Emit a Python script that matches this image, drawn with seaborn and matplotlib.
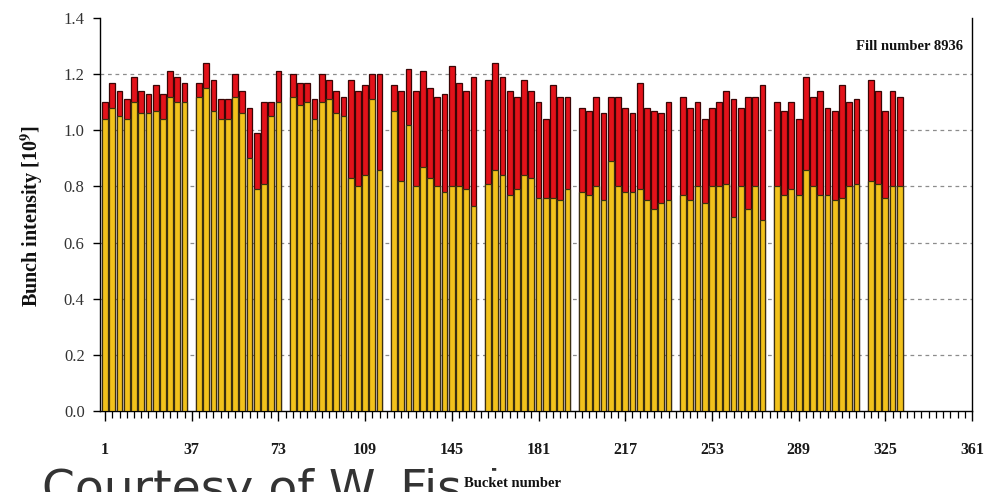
import numpy as np
import pandas as pd
import matplotlib
matplotlib.use("Agg")
import matplotlib.pyplot as plt
import seaborn as sns
from matplotlib.transforms import Bbox
from matplotlib.ticker import FixedLocator

# ---------------- data ----------------
# first bucket of each bunch train (bunches every 3 buckets, one empty slot between trains)
train_first_bucket = [1, 40, 79, 121, 160, 199, 241, 280, 319]
bucket_step = 3

# bunch intensity at injection (red) and later in the store (yellow), per train
initial = [
    [1.10, 1.17, 1.14, 1.11, 1.19, 1.14, 1.13, 1.16, 1.13, 1.21, 1.19, 1.17],
    [1.17, 1.24, 1.18, 1.11, 1.11, 1.20, 1.14, 1.08, 0.99, 1.10, 1.10, 1.21],
    [1.20, 1.17, 1.17, 1.11, 1.20, 1.18, 1.14, 1.12, 1.18, 1.14, 1.16, 1.20, 1.20],
    [1.16, 1.14, 1.22, 1.14, 1.21, 1.15, 1.12, 1.13, 1.23, 1.17, 1.14, 1.19],
    [1.18, 1.24, 1.19, 1.14, 1.12, 1.18, 1.14, 1.10, 1.04, 1.16, 1.12, 1.12],
    [1.08, 1.07, 1.12, 1.06, 1.12, 1.12, 1.08, 1.06, 1.17, 1.08, 1.07, 1.06, 1.10],
    [1.12, 1.08, 1.10, 1.04, 1.08, 1.10, 1.14, 1.11, 1.08, 1.12, 1.12, 1.16],
    [1.10, 1.07, 1.10, 1.04, 1.19, 1.12, 1.14, 1.08, 1.07, 1.16, 1.10, 1.11],
    [1.18, 1.14, 1.07, 1.14, 1.12],
]
final = [
    [1.04, 1.08, 1.05, 1.04, 1.10, 1.06, 1.06, 1.07, 1.04, 1.12, 1.10, 1.10],
    [1.12, 1.15, 1.07, 1.04, 1.04, 1.12, 1.06, 0.90, 0.79, 0.81, 1.05, 1.10],
    [1.12, 1.09, 1.10, 1.04, 1.10, 1.11, 1.06, 1.05, 0.83, 0.80, 0.84, 1.11, 0.86],
    [1.07, 0.82, 1.02, 0.80, 0.87, 0.83, 0.80, 0.78, 0.80, 0.80, 0.79, 0.73],
    [0.81, 0.86, 0.84, 0.77, 0.79, 0.84, 0.83, 0.76, 0.76, 0.76, 0.75, 0.79],
    [0.78, 0.77, 0.80, 0.75, 0.89, 0.80, 0.78, 0.78, 0.79, 0.75, 0.72, 0.74, 0.75],
    [0.77, 0.75, 0.80, 0.74, 0.80, 0.80, 0.81, 0.69, 0.80, 0.72, 0.80, 0.68],
    [0.80, 0.77, 0.79, 0.77, 0.86, 0.80, 0.77, 0.77, 0.75, 0.76, 0.80, 0.81],
    [0.82, 0.81, 0.76, 0.80, 0.80],
]

x_tick_values = [1, 37, 73, 109, 145, 181, 217, 253, 289, 325, 361]
y_tick_values = [0.0, 0.2, 0.4, 0.6, 0.8, 1.0, 1.2, 1.4]
fill_label = "Fill number 8936"
x_title = "Bucket number"
y_title = "Bunch intensity [10$^{\\mathbf{9}}$]"
footer_text = "Courtesy of W. Fischer"

# ---------------- table ----------------
rows = []
for first, ini, fin in zip(train_first_bucket, initial, final):
    for k, (a, b) in enumerate(zip(ini, fin)):
        rows.append({"bucket": first + bucket_step * k, "initial": a, "final": b})
df = pd.DataFrame(rows)

# ---------------- style ----------------
sns.set_theme(style="white")
plt.rcParams["font.family"] = ["Liberation Serif", "DejaVu Serif"]
plt.rcParams["mathtext.fontset"] = "stix"

W, H = 992, 492
fig = plt.figure(figsize=(W / 100, H / 100), dpi=100)
ax_left, ax_right, ax_top, ax_bot = 100, 972, 18, 411
ax = fig.add_axes([ax_left / W, 1 - ax_bot / H, (ax_right - ax_left) / W, (ax_bot - ax_top) / H])

# gridlines behind bars
for v in y_tick_values[1:-1]:
    ax.axhline(v, color="#8c8c8c", lw=0.9, ls=(0, (3, 3)), zorder=0)

sns.barplot(data=df, x="bucket", y="initial", native_scale=True, width=0.8,
            color="#e3121a", saturation=1, edgecolor="#3a0505", linewidth=0.9,
            errorbar=None, ax=ax, zorder=2)
sns.barplot(data=df, x="bucket", y="final", native_scale=True, width=0.8,
            color="#f2c21c", saturation=1, edgecolor="#3b3010", linewidth=0.9,
            errorbar=None, ax=ax, zorder=3)

ax.set_xlim(-1.1, 361)
ax.set_ylim(0, 1.4)

ax.xaxis.set_major_locator(FixedLocator(x_tick_values))
ax.xaxis.set_minor_locator(FixedLocator(np.arange(1, 362, 3)))
ax.set_xticklabels([str(v) for v in x_tick_values])
ax.yaxis.set_major_locator(FixedLocator(y_tick_values))
ax.set_yticklabels([f"{v:.1f}" for v in y_tick_values])

ax.tick_params(axis="x", which="major", direction="out", length=7, width=1.0,
               color="black", labelsize=11.5, pad=15, labelcolor="#1a1a1a")
ax.tick_params(axis="x", which="minor", direction="out", length=5, width=0.9,
               color="black")
ax.tick_params(axis="y", which="major", direction="out", length=5, width=1.0,
               color="black", labelsize=12, pad=6, labelcolor="#333333")
for lab in ax.get_xticklabels():
    lab.set_fontweight("bold")
ax.tick_params(bottom=True, left=True, which="both")

for s in ax.spines.values():
    s.set_visible(True)
    s.set_color("black")
    s.set_linewidth(1.0)
ax.spines["top"].set_visible(False)

ax.set_xlabel(x_title, fontsize=10.5, fontweight="bold", color="#111111")
ax.xaxis.set_label_coords((513 - ax_left) / (ax_right - ax_left), -(477 - ax_bot) / (ax_bot - ax_top))
ax.set_ylabel(y_title, fontsize=14.5, fontweight="bold", color="#111111")
ax.yaxis.set_label_coords(-(100 - 45) / (ax_right - ax_left), (ax_bot - 216) / (ax_bot - ax_top))

ax.text((963 - ax_left) / (ax_right - ax_left), (ax_bot - 47) / (ax_bot - ax_top), fill_label,
        transform=ax.transAxes, ha="right", va="center", fontsize=10.5,
        fontweight="bold", color="#111111")

# partially visible slide text behind the x title
ft = fig.text(42 / W, 1 - 503 / H, footer_text, fontsize=34, color="#333333",
              family="DejaVu Sans", ha="left", va="baseline", zorder=-1)
ft.set_clip_box(Bbox.from_extents(0, 0, 560, H))
ft.set_clip_on(True)
ax.xaxis.label.set_backgroundcolor("white")

fig.savefig("out.png", dpi=100, facecolor="white")
